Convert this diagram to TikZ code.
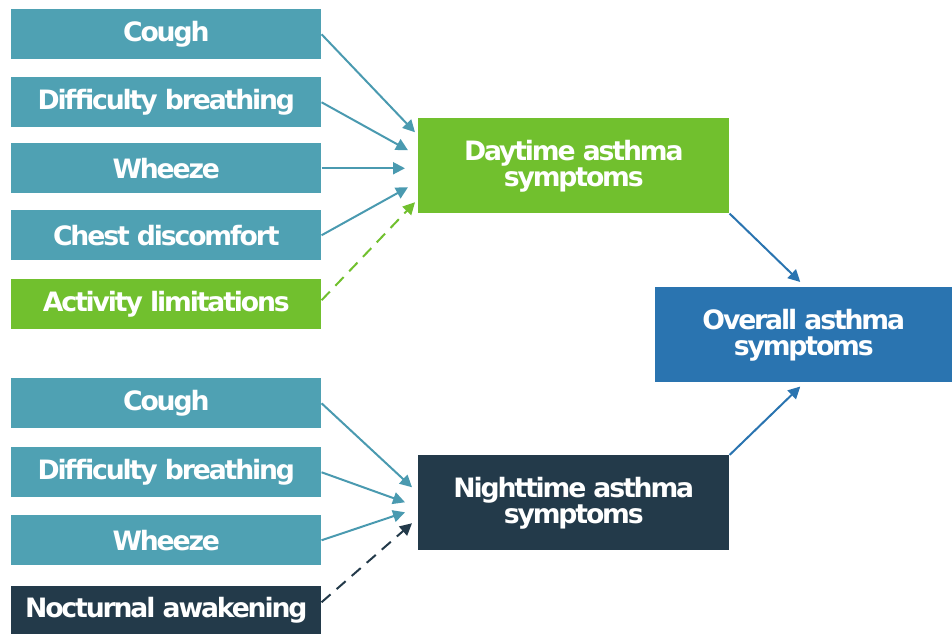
\documentclass[tikz,border=0pt]{standalone}
\usepackage{fontspec}
\setmainfont{DejaVu Sans}[BoldFont={DejaVu Sans Bold}]
\newfontfamily\lblfont{DejaVu Sans Bold}[LetterSpace=-8]
\usetikzlibrary{arrows.meta,calc}
\definecolor{tealbox}{HTML}{4FA1B3}
\definecolor{tealarrow}{HTML}{4A9AB0}
\definecolor{greenbox}{HTML}{71C02E}
\definecolor{bluebox}{HTML}{2A74B0}
\definecolor{darkbox}{HTML}{233A4A}
\tikzset{
  x=0.75pt, y=-0.75pt,
  lbl/.style={inner sep=0pt, text=white, font=\lblfont\fontsize{20}{19.5}\selectfont, align=center, anchor=north west},
  leftbox/.style={lbl, minimum width=232.5pt, minimum height=37.5pt},
  bigbox/.style={lbl, minimum width=233.25pt, minimum height=71.25pt},
  conn/.style={line width=1.5pt, -{Triangle[length=9pt,width=9pt]}},
}
\begin{document}
\begin{tikzpicture}
\useasboundingbox (0,0) rectangle (952,634);
% left boxes - daytime
\node[leftbox, fill=tealbox] (d1) at (11,9) {Cough};
\node[leftbox, fill=tealbox] (d2) at (11,77) {Difficulty breathing};
\node[leftbox, fill=tealbox] (d3) at (11,143) {Wheeze};
\node[leftbox, fill=tealbox] (d4) at (11,210) {Chest discomfort};
\node[leftbox, fill=greenbox] (d5) at (11,279) {Activity limitations};
% left boxes - nighttime
\node[leftbox, fill=tealbox] (n1) at (11,378) {Cough};
\node[leftbox, fill=tealbox] (n2) at (11,447) {Difficulty breathing};
\node[leftbox, fill=tealbox] (n3) at (11,515) {Wheeze};
\node[leftbox, fill=darkbox, minimum height=36pt] (n4) at (11,586) {Nocturnal awakening};
% middle boxes
\node[bigbox, fill=greenbox] (day) at (418,118) {Daytime asthma\\symptoms};
\node[bigbox, fill=darkbox] (night) at (418,455) {Nighttime asthma\\symptoms};
% right box
\node[lbl, fill=bluebox, minimum width=222.75pt, minimum height=71.25pt] (overall) at (655,287) {Overall asthma\\symptoms};
% arrows daytime
\draw[conn, tealarrow] (d1.east) -- ($(day.west)+(-3,-33.5)$);
\draw[conn, tealarrow] (d2.east) -- ($(day.west)+(-10,-15.5)$);
\draw[conn, tealarrow] (d3.east) -- ($(day.west)+(-13,2.5)$);
\draw[conn, tealarrow] (d4.east) -- ($(day.west)+(-10,21.5)$);
\draw[conn, greenbox, dash pattern=on 9pt off 6pt] ($(d5.east)+(0,-4)$) -- ($(day.west)+(-3,36.5)$);
% arrows nighttime
\draw[conn, tealarrow] (n1.east) -- ($(night.west)+(-6,-15.5)$);
\draw[conn, tealarrow] (n2.east) -- ($(night.west)+(-13,-0.5)$);
\draw[conn, tealarrow] (n3.east) -- ($(night.west)+(-13,9.5)$);
\draw[conn, darkbox, dash pattern=on 9pt off 6pt] ($(n4.east)+(0,-8)$) -- ($(night.west)+(-6,20.5)$);
% to overall
\draw[conn, bluebox] (day.south east) -- ($(overall.north)+(-3.5,-5)$);
\draw[conn, bluebox] (night.north east) -- ($(overall.south)+(-3.5,4)$);
\end{tikzpicture}
\end{document}
